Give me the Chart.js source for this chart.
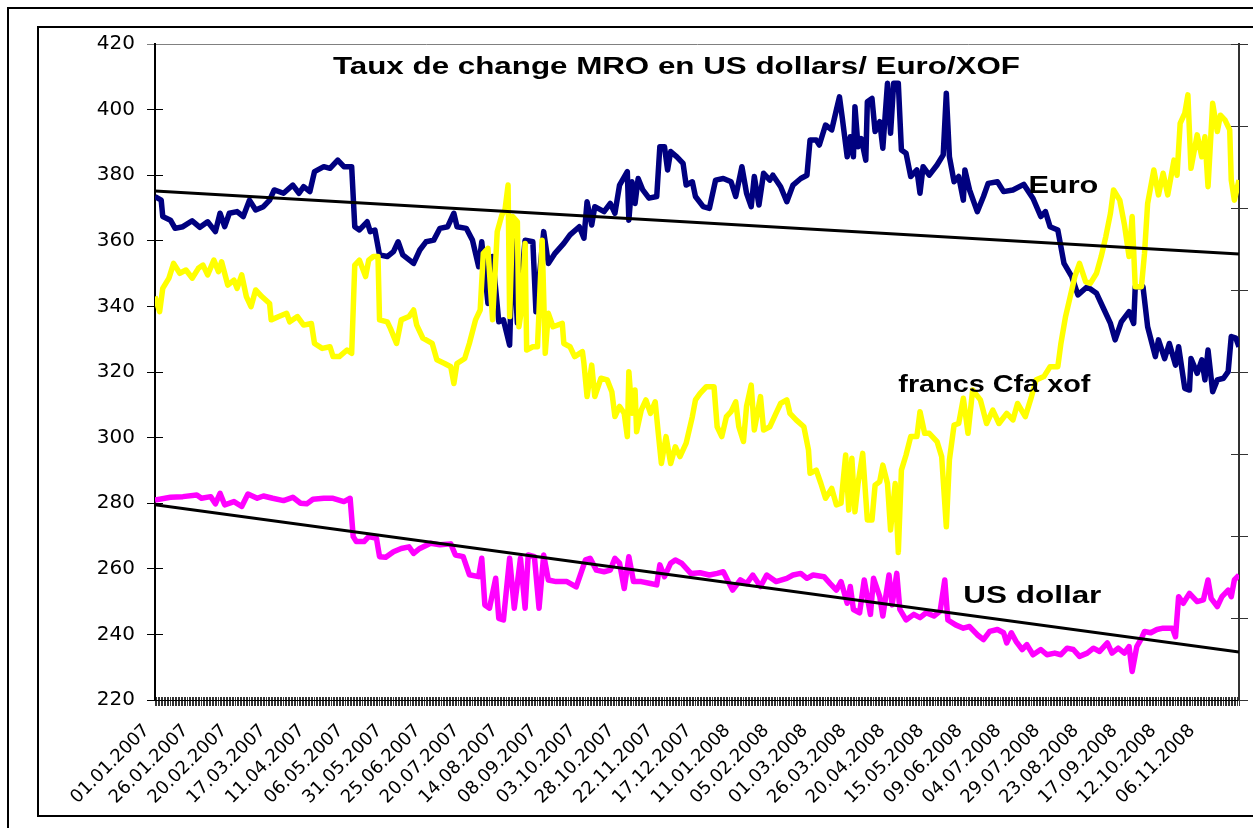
<!DOCTYPE html>
<html><head><meta charset="utf-8">
<script src="https://cdn.jsdelivr.net/npm/chart.js@4.4.1/dist/chart.umd.min.js"></script>
<style>
html,body{margin:0;padding:0;background:#fff;overflow:hidden;width:1253px;height:828px;position:relative;}
#outer{position:absolute;left:7px;top:7px;width:1400px;height:1000px;border:2px solid #000;}
#inner{position:absolute;left:37px;top:26px;width:1400px;height:791px;box-sizing:border-box;border:2px solid #000;}
canvas{position:absolute;left:0;top:0;}
</style></head><body>
<div id="outer"></div><div id="inner"></div>
<canvas id="c" width="1253" height="828"></canvas>
<script>
// Category tick labels (every 25 days, day 0 = 01.01.2007)
const dateLabels = ["01.01.2007","26.01.2007","20.02.2007","17.03.2007","11.04.2007","06.05.2007","31.05.2007","25.06.2007","20.07.2007","14.08.2007","08.09.2007","03.10.2007","28.10.2007","22.11.2007","17.12.2007","11.01.2008","05.02.2008","01.03.2008","26.03.2008","20.04.2008","15.05.2008","09.06.2008","04.07.2008","29.07.2008","23.08.2008","17.09.2008","12.10.2008","06.11.2008"];

// [day index, MRO per unit]
const euroSeries = [[0,373.5],[4,372.4],[5,367.4],[10,366.3],[13,363.8],[18,364.3],[24,366.1],[29,364.1],[34,365.8],[39,362.8],[42,368.4],[45,364.3],[48,368.4],[53,368.9],[57,367.4],[61,372.4],[65,369.4],[70,370.4],[74,372.4],[77,375.5],[83,374.5],[89,377],[93,374.5],[96,376.5],[100,375],[103,381.1],[109,382.6],[113,382.1],[118,384.6],[122,382.6],[127,382.6],[129,364.3],[132,363.3],[137,365.8],[139,362.8],[142,363.3],[145,355.7],[150,355.2],[154,356.7],[157,359.7],[160,355.7],[167,353.1],[171,357.2],[175,359.7],[180,360.2],[184,363.8],[189,364.3],[193,368.4],[195,364.3],[201,363.8],[205,360.2],[209,352.1],[211,359.7],[215,340.9],[218,355.2],[222,335.3],[225,335.9],[229,328.2],[231,360.2],[234,335],[239,360.2],[244,359.7],[246,338.4],[251,362.8],[254,353.1],[258,356],[264,359.2],[268,361.8],[274,364.3],[277,360.8],[279,371.9],[282,364.8],[284,370.4],[290,368.9],[294,371.4],[297,368.4],[300,377],[305,381.1],[306,366.3],[308,378],[310,371.4],[312,379],[315,375.5],[319,373],[324,373.5],[326,388.7],[329,388.7],[331,381.6],[333,387.2],[337,385.6],[341,383.6],[343,377],[347,378],[349,373.5],[354,370.4],[358,369.9],[362,378.5],[367,379],[372,378],[375,373.5],[379,382.6],[382,374.5],[385,370.4],[387,379.6],[390,370.9],[393,380.6],[397,378.5],[399,380],[404,376.5],[408,371.9],[412,377],[417,379],[421,380],[423,390.7],[427,390.7],[429,389.2],[433,395.3],[437,393.8],[440,399.9],[442,403.9],[444,396.8],[447,385.6],[449,391.7],[451,385.6],[452,400.9],[454,388.7],[456,391.2],[459,384.6],[460,402.4],[463,403.4],[465,393.3],[468,396.3],[470,388.2],[473,408],[475,392.8],[477,408],[480,408],[482,387.7],[485,386.7],[488,379.6],[492,381.6],[494,374.5],[496,382.6],[500,380],[505,383.1],[509,386.2],[511,405],[513,385.6],[516,378],[519,379.6],[522,372.4],[523,381.6],[526,375.5],[531,368.9],[535,373.5],[538,377.5],[544,378],[548,375],[554,375.5],[561,377.2],[567,372.9],[572,367.4],[575,368.9],[578,364.3],[583,363.3],[587,353.1],[592,349.1],[596,343.5],[602,346],[608,344],[612,339.9],[617,334.8],[620,329.8],[624,335.3],[629,338.4],[632,334.8],[633,346],[638,346],[641,333.8],[646,324.7],[648,329.8],[652,324.1],[655,328.7],[659,322.1],[661,327.7],[665,315],[668,314.5],[669,324.1],[673,319.6],[676,323.7],[678,317.6],[680,326.7],[683,314],[686,317.6],[690,318.1],[693,320.1],[695,330.8],[698,330.3],[700,327.7]];

const xofSeries = [[0,343],[3,338.4],[5,345.5],[9,348.6],[12,353.1],[16,350.1],[20,351.1],[24,348.6],[28,351.6],[31,352.6],[34,349.6],[38,354.1],[41,350.6],[43,353.6],[47,346.5],[51,348],[53,345.5],[56,349.6],[59,343],[62,339.9],[65,345],[69,343],[74,340.9],[75,335.9],[80,336.9],[85,337.9],[87,335.3],[92,336.9],[96,334.3],[101,334.8],[103,328.7],[108,327.2],[113,327.7],[115,324.7],[119,324.7],[124,326.7],[127,325.7],[129,352.6],[132,354.1],[136,349.1],[138,354.1],[141,355.2],[144,355.2],[145,335.9],[150,335.3],[152,333.3],[156,328.7],[159,335.9],[164,336.9],[167,338.9],[169,334.3],[173,330.3],[179,328.7],[182,323.7],[187,322.6],[191,321.6],[193,316.5],[195,322.6],[200,324.1],[203,328.7],[207,335.9],[210,338.9],[212,356.2],[215,357.7],[218,335.9],[221,362.8],[224,367.9],[226,369.4],[228,377],[229,336.9],[231,367.4],[234,365.8],[235,333.8],[237,339.9],[239,359.2],[240,326.7],[244,327.7],[247,327.7],[250,360.2],[252,325.7],[254,337.9],[257,333.8],[263,334.8],[264,328.7],[268,327.7],[271,324.7],[276,326.2],[277,322.6],[279,312.5],[282,322.1],[284,312.5],[288,318.1],[292,317.6],[295,314],[297,306.4],[300,309.5],[303,307.4],[305,300.3],[306,320.1],[308,307.4],[310,314.5],[311,301.8],[314,308.4],[317,311.5],[320,307.4],[323,310.9],[325,301.3],[327,292.1],[330,300.3],[333,292.1],[336,297.2],[339,294.2],[343,298.3],[347,306.4],[349,311.5],[352,313.5],[356,315.5],[361,315.5],[363,303.3],[366,300.3],[369,306.4],[372,307.9],[375,310.9],[377,303.3],[380,298.8],[382,309.5],[385,316],[387,302.3],[391,312.5],[393,302.3],[397,303.3],[401,307.4],[404,310.4],[408,311.5],[410,307.4],[414,305.4],[419,303.3],[422,296.2],[423,289.1],[427,290.1],[430,286],[433,281.5],[437,284.5],[440,279.5],[443,280],[446,294.7],[448,277.9],[450,293.7],[452,277.4],[454,286],[457,295.2],[460,274.9],[463,274.9],[465,285.5],[468,286.6],[470,291.6],[473,286],[475,271.8],[478,286],[480,265],[482,290.1],[485,294.7],[488,300.3],[492,300.3],[494,307.9],[497,301.3],[500,301.3],[505,298.8],[508,294.2],[511,272.8],[513,293.2],[516,303.8],[519,304.3],[522,312],[525,301.3],[528,314.5],[533,311.5],[537,304.3],[541,308.4],[545,304.3],[550,307.4],[554,305.4],[557,310.4],[562,306.4],[566,312.5],[569,317.6],[574,318.6],[578,321.6],[583,321.6],[585,328.7],[588,336.9],[591,343],[594,349.1],[597,353.1],[601,347.5],[604,347],[608,350.1],[611,355.2],[614,361.3],[617,368.4],[619,375.5],[623,372.4],[626,365],[629,355.2],[631,367.4],[633,346],[637,346],[639,356.2],[641,371.4],[645,381.6],[648,374],[651,380.6],[654,374],[658,384.6],[660,380],[662,395.8],[665,398.9],[667,404.5],[669,382.1],[673,392.3],[676,385.6],[678,391.7],[680,376.5],[683,401.9],[686,393.3],[688,398.3],[691,396.8],[694,393.8],[695,378.5],[697,372.4],[700,378.5]];

const usdSeries = [[0,281],[10,281.8],[18,282],[27,282.5],[30,281.5],[36,282],[39,279.8],[42,283],[45,279.5],[51,280.5],[56,279],[60,282.8],[66,281.5],[70,282.2],[76,281.5],[83,280.8],[89,281.8],[94,280],[98,279.8],[102,281.2],[109,281.5],[115,281.5],[122,280.5],[126,281.5],[128,269.8],[130,268.3],[135,268.3],[138,269.8],[143,269.3],[145,263.7],[149,263.5],[154,265.2],[159,266.2],[164,266.7],[167,264.7],[171,266.2],[178,267.8],[184,267.3],[191,267.6],[194,264.2],[199,263.7],[203,258.2],[209,257.6],[211,263.2],[213,249],[216,248],[220,257.1],[222,244.9],[225,244.4],[229,263.2],[232,248],[236,263.2],[239,248],[241,264.2],[245,263.7],[248,248],[251,264.2],[254,256.6],[259,256.1],[266,256.1],[272,254.5],[278,262.7],[281,263.2],[285,259.6],[290,259.1],[294,259.6],[297,263.2],[300,261.7],[303,254],[306,263.7],[309,256.1],[314,256.1],[320,255.5],[324,255.1],[326,261.2],[329,257.6],[333,261.7],[336,262.7],[340,261.7],[346,258.6],[352,258.8],[358,258.1],[363,258.6],[367,259.1],[373,253.5],[378,256.6],[382,255.5],[386,258.1],[391,254.6],[395,258.1],[401,256.1],[408,257.1],[412,258.1],[417,258.6],[421,257.1],[425,258.1],[432,257.6],[436,255.5],[440,253.5],[443,256.1],[447,249.5],[449,254.6],[451,247.6],[455,246.6],[458,256.6],[462,246.1],[464,257.1],[468,251.5],[470,245.6],[474,258.1],[476,249],[479,258.6],[481,247.6],[485,244.4],[490,246.1],[494,245.1],[498,246.6],[503,245.6],[507,247.1],[510,256.6],[512,244.4],[517,242.9],[522,241.9],[526,242.4],[531,239.9],[535,238.4],[539,240.9],[544,241.5],[548,240.5],[550,237.4],[553,240.5],[556,237.9],[560,235.4],[563,236.9],[567,233.8],[572,235.4],[576,233.8],[581,234.3],[585,233.8],[589,235.8],[593,235.4],[597,233.3],[602,234.3],[606,235.8],[610,234.8],[615,237.4],[618,234.3],[622,235.8],[626,234.3],[629,236.3],[631,228.7],[634,236.3],[637,238.8],[639,240.9],[643,240.5],[647,241.5],[651,241.9],[657,241.9],[659,239.3],[661,251.5],[664,249.5],[668,252.5],[673,250],[677,250.5],[680,256.6],[682,251],[686,248.5],[689,251.5],[693,253.5],[695,251.5],[697,256.6],[700,258.1]];

const euroTrend = [[0,375.2],[700,356.0]];
const usdTrend = [[0,279.5],[700,234.6]];

const titleText = "Taux de change MRO en US dollars/ Euro/XOF";
const annotations = [
  {text:"Euro", x:564, y:374.6, w:70},
  {text:"francs Cfa xof", x:480, y:313.9, w:192},
  {text:"US dollar", x:522, y:249.6, w:138}
];

const toPts = a => a.map(p => ({x:p[0], y:p[1]}));
const lineDs = (label, data, color, width) => ({
  label, data: toPts(data), borderColor: color, backgroundColor: color,
  borderWidth: width, pointRadius: 0, pointHoverRadius: 0, tension: 0, fill: false,
  borderJoinStyle: 'round', borderCapStyle: 'butt'
});

const overlay = {
  id: 'overlay',
  afterDraw(chart) {
    const ctx = chart.ctx, xs = chart.scales.x, ys = chart.scales.y;
    const draw = (text, x, y, w, size) => {
      ctx.save();
      ctx.font = 'bold ' + size + 'px "Liberation Sans", Arial, sans-serif';
      ctx.fillStyle = '#000'; ctx.textAlign = 'left'; ctx.textBaseline = 'alphabetic';
      const m = ctx.measureText(text).width;
      ctx.translate(x, y); ctx.scale(w / m, 1); ctx.fillText(text, 0, 0);
      ctx.restore();
    };
    draw(titleText, 333, 74, 687, 24);
    annotations.forEach(a => draw(a.text, xs.getPixelForValue(a.x), ys.getPixelForValue(a.y), a.w, 23));
  }
};

const topGray = c => (c.tick && c.tick.value === 420) ? '#808080' : '#000';

new Chart(document.getElementById('c'), {
  type: 'line',
  data: { datasets: [
    lineDs('Tendance Euro', euroTrend, '#000', 3),
    lineDs('Tendance US dollar', usdTrend, '#000', 3),
    lineDs('US dollar', usdSeries, '#FF00FF', 5.5),
    lineDs('francs Cfa xof', xofSeries, '#FFFF00', 5.5),
    lineDs('Euro', euroSeries, '#000080', 5.5)
  ]},
  options: {
    responsive: false, animation: false, devicePixelRatio: 1,
    layout: { padding: { left: 0, right: 5, top: 44, bottom: 0 } },
    plugins: { legend: { display: false }, tooltip: { enabled: false }, title: { display: false } },
    scales: {
      x: { axis: 'x', type: 'linear', position: 'bottom', weight: 1, min: 0, max: 700,
        ticks: { stepSize: 1, autoSkip: false, minRotation: 45, maxRotation: 45, padding: 6, color: '#000',
          font: { family: 'DejaVu Sans', size: 18 },
          callback: v => (v % 25 === 0 && dateLabels[v / 25]) ? dateLabels[v / 25] + '  ' : '' },
        grid: { drawOnChartArea: false, drawTicks: true, tickLength: 6, color: '#333', lineWidth: 1 },
        border: { display: true, color: '#000', width: 1 },
        afterFit: s => { s.height = 128; s.paddingLeft = 0; s.paddingRight = 0; } },
      xIn: { axis: 'x', type: 'linear', position: 'bottom', weight: 0, min: 0, max: 700,
        ticks: { display: false, stepSize: 1, autoSkip: false },
        grid: { drawOnChartArea: false, drawTicks: true, tickLength: -3, color: '#333', lineWidth: 1 },
        border: { display: false },
        afterFit: s => { s.height = 0; s.paddingLeft = 0; s.paddingRight = 0; } },
      y: { axis: 'y', type: 'linear', position: 'left', weight: 1, min: 220, max: 420,
        ticks: { stepSize: 20, color: '#000', padding: 12, font: { family: 'DejaVu Sans', size: 20 } },
        grid: { drawOnChartArea: true, drawTicks: true, tickLength: 8, lineWidth: 1,
          color: c => (c.tick && c.tick.value === 420) ? '#808080' : 'rgba(0,0,0,0)', tickColor: topGray },
        border: { display: true, color: '#000', width: 2 },
        afterFit: s => { s.width = 155; } },
      yIn: { axis: 'y', type: 'linear', position: 'left', weight: 0, min: 220, max: 420,
        ticks: { display: false, stepSize: 20 },
        grid: { drawOnChartArea: false, drawTicks: true, tickLength: -8, lineWidth: 1, color: topGray, tickColor: topGray },
        border: { display: false },
        afterFit: s => { s.width = 0; } },
      y2: { axis: 'y', type: 'linear', position: 'right', weight: 1, min: 220, max: 420,
        ticks: { display: false, stepSize: 25 },
        grid: { drawOnChartArea: false, drawTicks: true, tickLength: 9, lineWidth: 1, color: '#333' },
        border: { display: true, color: '#333', width: 2 },
        afterFit: s => { s.width = 9; } },
      y2In: { axis: 'y', type: 'linear', position: 'right', weight: 0, min: 220, max: 420,
        ticks: { display: false, stepSize: 25 },
        grid: { drawOnChartArea: false, drawTicks: true, tickLength: -8, lineWidth: 1, color: '#333' },
        border: { display: false },
        afterFit: s => { s.width = 0; } }
    }
  },
  plugins: [overlay]
});
</script></body></html>
